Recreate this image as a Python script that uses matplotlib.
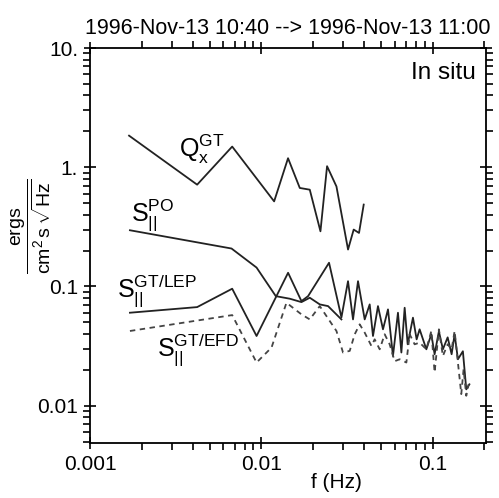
import matplotlib
matplotlib.use('Agg')
import matplotlib.pyplot as plt
from matplotlib.ticker import LogLocator, FixedLocator, FixedFormatter, NullFormatter

plt.rcParams['font.family'] = ['Liberation Sans', 'DejaVu Sans']
plt.rcParams['mathtext.fontset'] = 'custom'
plt.rcParams['mathtext.rm'] = 'Liberation Sans'
plt.rcParams['mathtext.it'] = 'Liberation Sans:italic'
plt.rcParams['mathtext.bf'] = 'Liberation Sans:bold'

title = '1996-Nov-13 10:40 --> 1996-Nov-13 11:00'

# Q_x^GT
f_q = [0.00169, 0.00422, 0.00676, 0.01188, 0.01432, 0.01677, 0.01918,
       0.02214, 0.02420, 0.02745, 0.03208, 0.03461, 0.03718, 0.03960]
v_q = [1.84, 0.714, 1.49, 0.517, 1.19, 0.670, 0.648,
       0.290, 1.02, 0.690, 0.204, 0.300, 0.281, 0.486]

# S_par^PO
f_po = [0.00171, 0.00670, 0.00938, 0.01215, 0.01466, 0.01715, 0.01918,
        0.02194, 0.02452, 0.02935]
v_po = [0.296, 0.208, 0.144, 0.0829, 0.0789, 0.0739, 0.0804,
        0.0707, 0.0684, 0.0529]

# S_par^GT/LEP
f_lep = [0.00171, 0.00422, 0.00676, 0.00938, 0.01433, 0.01715, 0.01875,
         0.02485, 0.02935, 0.03207, 0.0343, 0.03668, 0.04013, 0.04292,
         0.04486, 0.04797, 0.05131, 0.05488, 0.05868, 0.06276, 0.0657,
         0.06867, 0.0715, 0.07677, 0.08066, 0.08397, 0.0919, 0.09826,
         0.1027, 0.1088, 0.1148, 0.1224, 0.1291, 0.1344, 0.1405, 0.1502,
         0.1572, 0.1639]
v_lep = [0.0602, 0.0671, 0.0957, 0.0384, 0.1302, 0.0753, 0.0829,
         0.158, 0.0550, 0.1107, 0.0529, 0.1107, 0.0529, 0.0707,
         0.0384, 0.0684, 0.0437, 0.0642, 0.0261, 0.0602, 0.0279,
         0.0663, 0.0327, 0.0547, 0.0360, 0.0437, 0.0297, 0.0397,
         0.0270, 0.0420, 0.0297, 0.0374, 0.0270, 0.0397, 0.0245, 0.0286,
         0.0137, 0.0151]

# S_par^GT/EFD
f_efd = [0.00171, 0.00676, 0.00938, 0.01147, 0.01402, 0.01715, 0.01918,
         0.02194, 0.02745, 0.02999, 0.03281, 0.03509, 0.03752, 0.04013,
         0.04391, 0.04589, 0.04909, 0.05249, 0.05614, 0.06003, 0.06422,
         0.07026, 0.07345, 0.07852, 0.08397, 0.0919, 0.09826, 0.1027,
         0.1088, 0.1148, 0.1224, 0.1291, 0.1344, 0.1405, 0.147, 0.1516,
         0.1572, 0.1622]
v_efd = [0.0423, 0.0575, 0.0230, 0.0307, 0.0730, 0.0583, 0.0529,
         0.0684, 0.0423, 0.0279, 0.0288, 0.0397, 0.0481, 0.0410,
         0.0317, 0.0360, 0.0297, 0.0397, 0.0327, 0.0236, 0.0245,
         0.0230, 0.0397, 0.0327, 0.0338, 0.0297, 0.0423, 0.0190,
         0.0437, 0.0261, 0.0327, 0.0297, 0.0423, 0.0230, 0.0125, 0.0202,
         0.0121, 0.0151]

xticks = [0.001, 0.01, 0.1]
xticklabels = ['0.001', '0.01', '0.1']
yticks = [0.01, 0.1, 1, 10]
yticklabels = ['0.01', '0.1', '1.', '10.']

fig = plt.figure(figsize=(4.99, 4.98), dpi=100)
ax = fig.add_axes([0.1804, 0.1104, 0.7936, 0.7932])

ax.plot(f_q, v_q, color='#222222', lw=1.3)
ax.plot(f_po, v_po, color='#222222', lw=1.3)
ax.plot(f_lep, v_lep, color='#222222', lw=1.3)
ax.plot(f_efd, v_efd, color='#444444', lw=1.3, ls=(0, (3, 2.5)))

ax.set_xscale('log')
ax.set_yscale('log')
ax.set_xlim(0.001, 0.205)
ax.set_ylim(0.00486, 10)

ax.xaxis.set_major_locator(FixedLocator(xticks))
ax.xaxis.set_major_formatter(FixedFormatter(xticklabels))
ax.xaxis.set_minor_locator(LogLocator(base=10, subs=range(2, 10), numticks=20))
ax.xaxis.set_minor_formatter(NullFormatter())
ax.yaxis.set_major_locator(FixedLocator(yticks))
ax.yaxis.set_major_formatter(FixedFormatter(yticklabels))
ax.yaxis.set_minor_locator(LogLocator(base=10, subs=range(2, 10), numticks=20))
ax.yaxis.set_minor_formatter(NullFormatter())

ax.tick_params(which='both', top=True, right=True, labelsize=15, width=1.2)
ax.tick_params(which='major', direction='inout', length=9, pad=4)
ax.tick_params(which='minor', direction='out', length=5)
for s in ax.spines.values():
    s.set_linewidth(1.3)

ax.set_title(title, fontsize=15.5, pad=10)
ax.text(0.975, 0.965, 'In situ', transform=ax.transAxes, ha='right', va='top',
        fontsize=17.5)

fig.text(0.675, 0.032, 'f (Hz)', ha='center', va='center', fontsize=15)
fig.text(0.062, 0.545, r'$\dfrac{\mathrm{ergs}}{\mathrm{cm^2\,s\,\sqrt{Hz}}}$',
         rotation=90, ha='center', va='center', fontsize=14)

ax.text(0.0033, 1.42, r'$\mathrm{Q}_\mathrm{x}^\mathrm{GT}$', fontsize=18,
        ha='left', va='center')
ax.text(0.00173, 0.40, r'$\mathrm{S}_{\mathrm{||}}^{\mathrm{PO}}$', fontsize=18,
        ha='left', va='center')
ax.text(0.00144, 0.092, r'$\mathrm{S}_{\mathrm{||}}^{\mathrm{GT/LEP}}$', fontsize=18,
        ha='left', va='center')
ax.text(0.00247, 0.0295, r'$\mathrm{S}_{\mathrm{||}}^{\mathrm{GT/EFD}}$', fontsize=18,
        ha='left', va='center')

fig.savefig('out.png', dpi=100)
